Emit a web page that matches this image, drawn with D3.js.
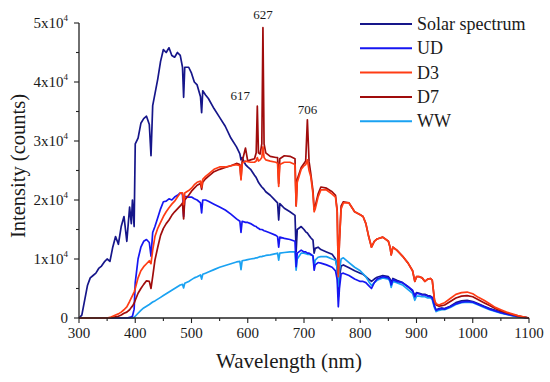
<!DOCTYPE html>
<html>
<head>
<meta charset="utf-8">
<script src="https://cdnjs.cloudflare.com/ajax/libs/d3/7.8.5/d3.min.js"></script>
<style>
  body { margin: 0; background: #fff; }
</style>
</head>
<body>
<div id="chart"></div>
<script>

// wavelength grid (nm), shared by all series
var wavelength = [
  300,305,310,315,320,325,330,335,340,345,
  350,355,360,365,370,375,380,385,390,393,
  395,398,400,405,410,415,420,425,428,431,
  435,440,445,450,455,460,465,470,475,480,
  484,486,488,495,500,505,510,516,518,520,
  525,530,540,550,560,570,580,586,588,590,
  596,600,605,612,615,617,619,622,625,627,
  629,632,640,650,653,655,657,665,675,684,
  686,688,695,700,703,706,709,712,716,718,
  720,725,730,740,750,756,759,761,763,766,
  770,780,790,800,805,810,815,820,825,830,
  840,850,853,855,858,865,875,885,893,897,
  900,905,910,915,920,925,928,932,935,940,
  945,950,960,970,980,990,1000,1010,1020,1030,
  1040,1050,1060,1070,1080,1090,1100
];

// intensities, in units of 1x10^4 counts
var solar = [
  0.0,0.05,0.3,0.55,0.68,0.72,0.76,0.84,0.88,0.95,
  1.0,0.96,1.2,1.38,1.25,1.55,1.72,1.3,1.88,1.6,
  2.0,1.55,2.95,3.05,3.3,3.38,3.42,3.28,2.75,3.6,
  3.8,4.05,4.35,4.55,4.5,4.58,4.45,4.42,4.5,4.45,
  4.25,3.74,4.25,4.25,4.15,4.0,3.95,3.75,3.48,3.85,
  3.78,3.72,3.55,3.4,3.25,3.05,2.9,2.78,2.68,2.72,
  2.6,2.56,2.52,2.42,2.38,2.34,2.3,2.26,2.22,2.2,
  2.18,2.14,2.08,1.98,1.95,1.66,1.94,1.86,1.8,1.74,
  1.12,1.5,1.55,1.5,1.46,1.44,1.4,1.36,1.32,1.1,
  1.18,1.2,1.16,1.12,1.08,1.0,0.85,0.36,0.7,0.88,
  0.9,0.85,0.8,0.76,0.74,0.7,0.66,0.62,0.66,0.69,
  0.72,0.7,0.66,0.6,0.67,0.64,0.6,0.53,0.46,0.38,
  0.43,0.42,0.4,0.4,0.38,0.37,0.35,0.2,0.13,0.16,
  0.17,0.16,0.2,0.26,0.29,0.3,0.28,0.24,0.2,0.16,
  0.13,0.1,0.07,0.05,0.03,0.015,0.0
];

var ud = [
  0,0,0,0,0,0,0,0,0,0,
  0,0,0,0,0,0,0,0,0.01,0.02,
  0.03,0.15,0.6,1.0,1.2,1.3,1.33,1.28,1.05,1.45,
  1.55,1.7,1.85,1.97,1.98,2.02,2.0,2.05,2.08,2.12,
  2.1,1.72,2.06,2.05,2.05,2.02,2.0,1.95,1.78,2.0,
  2.0,1.98,1.93,1.88,1.83,1.76,1.68,1.64,1.45,1.64,
  1.62,1.62,1.6,1.56,1.55,1.53,1.52,1.5,1.5,1.49,
  1.48,1.47,1.44,1.4,1.38,1.2,1.37,1.35,1.33,1.3,
  0.87,1.1,1.15,1.12,1.12,1.1,1.1,1.08,1.05,0.81,
  0.9,0.94,0.93,0.9,0.86,0.8,0.65,0.19,0.5,0.75,
  0.76,0.72,0.66,0.62,0.62,0.6,0.55,0.5,0.6,0.66,
  0.7,0.68,0.64,0.56,0.65,0.62,0.6,0.53,0.47,0.36,
  0.42,0.41,0.39,0.39,0.37,0.36,0.34,0.2,0.13,0.15,
  0.16,0.15,0.19,0.24,0.27,0.28,0.27,0.23,0.19,0.15,
  0.12,0.09,0.065,0.045,0.025,0.01,0
];

var d3s = [
  0,0,0,0,0,0,0,0,0,0,
  0,0.01,0.03,0.05,0.07,0.1,0.14,0.19,0.28,0.34,
  0.38,0.44,0.5,0.68,0.8,0.87,0.92,0.97,0.92,1.15,
  1.38,1.52,1.62,1.72,1.8,1.87,1.93,1.98,2.05,2.12,
  2.12,1.92,2.12,2.16,2.2,2.26,2.3,2.32,2.22,2.35,
  2.4,2.44,2.52,2.56,2.56,2.58,2.6,2.58,2.34,2.62,
  2.66,2.65,2.64,2.64,2.66,2.72,2.66,2.68,2.72,2.9,
  2.72,2.68,2.66,2.64,2.62,2.23,2.6,2.64,2.64,2.6,
  1.9,2.3,2.52,2.58,2.6,2.68,2.5,2.4,2.1,1.8,
  1.85,2.05,2.17,2.17,2.1,2.05,1.8,0.7,1.3,1.85,
  1.95,1.95,1.8,1.75,1.72,1.6,1.38,1.2,1.3,1.34,
  1.37,1.3,1.2,1.07,1.2,1.15,1.05,0.93,0.8,0.62,
  0.7,0.7,0.68,0.62,0.66,0.67,0.64,0.3,0.24,0.22,
  0.24,0.26,0.33,0.4,0.43,0.44,0.41,0.35,0.3,0.24,
  0.18,0.14,0.1,0.07,0.04,0.02,0
];

var d7 = [
  0,0,0,0,0,0,0,0,0,0,
  0,0,0.01,0.02,0.03,0.05,0.08,0.1,0.14,0.18,
  0.2,0.25,0.3,0.42,0.5,0.57,0.63,0.62,0.5,0.7,
  0.98,1.2,1.4,1.52,1.6,1.66,1.74,1.8,1.85,1.9,
  1.95,1.68,2.0,2.08,2.15,2.2,2.25,2.28,2.18,2.3,
  2.36,2.4,2.48,2.52,2.55,2.58,2.62,2.6,2.36,2.65,
  2.88,2.66,2.68,2.7,2.8,3.59,2.8,2.78,2.95,4.92,
  2.95,2.8,2.74,2.72,2.72,2.28,2.7,2.75,2.74,2.7,
  1.9,2.35,2.55,2.62,2.66,3.36,2.65,2.45,2.15,1.84,
  1.9,2.1,2.22,2.2,2.14,2.08,1.82,0.75,1.3,1.9,
  1.97,1.95,1.8,1.75,1.72,1.6,1.38,1.2,1.3,1.34,
  1.37,1.3,1.2,1.07,1.2,1.15,1.05,0.93,0.8,0.62,
  0.7,0.7,0.68,0.62,0.66,0.67,0.64,0.3,0.22,0.2,
  0.21,0.22,0.28,0.34,0.37,0.38,0.36,0.31,0.26,0.21,
  0.16,0.12,0.09,0.06,0.035,0.015,0
];

var ww = [
  0,0,0,0,0,0,0,0,0,0,
  0,0,0,0,0,0,0,0,0,0,
  0,0.01,0.03,0.08,0.13,0.17,0.2,0.23,0.25,0.27,
  0.29,0.32,0.35,0.38,0.41,0.44,0.47,0.5,0.53,0.56,
  0.57,0.51,0.59,0.62,0.65,0.68,0.7,0.73,0.66,0.74,
  0.76,0.78,0.82,0.86,0.89,0.92,0.95,0.96,0.82,0.97,
  0.98,0.99,1.0,1.01,1.02,1.02,1.03,1.04,1.04,1.05,
  1.05,1.06,1.07,1.09,1.1,0.98,1.1,1.11,1.12,1.12,
  0.81,1.0,1.1,1.1,1.09,1.08,1.08,1.07,1.06,0.87,
  0.98,1.03,1.04,1.04,1.0,0.98,0.85,0.53,0.8,1.0,
  1.02,0.94,0.86,0.8,0.75,0.7,0.62,0.55,0.6,0.64,
  0.68,0.66,0.62,0.52,0.62,0.6,0.56,0.48,0.42,0.3,
  0.37,0.37,0.36,0.36,0.34,0.34,0.31,0.17,0.11,0.13,
  0.14,0.14,0.18,0.23,0.26,0.27,0.26,0.22,0.18,0.14,
  0.11,0.08,0.06,0.04,0.02,0.01,0
];

var seriesNames = ["Solar spectrum", "UD", "D3", "D7", "WW"];
var seriesColors = ["#16168a", "#1616f2", "#ff3c14", "#a00c0c", "#1aa2f2"];
var seriesValues = [solar, ud, d3s, d7, ww];
var drawOrder = [0, 4, 1, 3, 2];

var xTicks = [300, 400, 500, 600, 700, 800, 900, 1000, 1100];
var yTicks = [0, 1, 2, 3, 4, 5];

// peak labels on D7
var peakLabels = ["617", "627", "706"];
var peakNm = [617, 627, 706];
var peakValue = [3.59, 4.92, 3.36];

var width = 550, height = 382;
var serif = "'Liberation Serif', 'Times New Roman', serif";

// label nudges so the numbers sit beside their peaks
var peakDx = [-17, 0, 0], peakDy = [-6, -9, -6];

var svg = d3.select("#chart").append("svg")
    .attr("width", width)
    .attr("height", height)
    .attr("font-family", serif)
    .style("font-family", serif);

var x = d3.scaleLinear().domain([300, 1100]).range([79, 529]);
var y = d3.scaleLinear().domain([0, 5]).range([318, 23]);

var line = d3.line()
    .x(function(d) { return x(d[0]); })
    .y(function(d) { return y(d[1]); });

drawOrder.forEach(function(k) {
  var pts = wavelength.map(function(w, i) { return [w, seriesValues[k][i]]; });
  svg.append("path")
      .datum(pts)
      .attr("fill", "none")
      .attr("stroke", seriesColors[k])
      .attr("stroke-width", 1.7)
      .attr("stroke-linejoin", "round")
      .attr("d", line);
});

// x axis
var xAxis = svg.append("g")
    .attr("transform", "translate(0," + y(0) + ")");
xAxis.append("line")
    .attr("x1", x(300)).attr("x2", x(1100))
    .attr("stroke", "#222").attr("stroke-width", 1.3);
xAxis.selectAll(".xminor")
    .data(d3.range(350, 1100, 100))
  .enter().append("line")
    .attr("x1", function(d) { return x(d); })
    .attr("x2", function(d) { return x(d); })
    .attr("y2", 3)
    .attr("stroke", "#222").attr("stroke-width", 1.1);
xAxis.selectAll(".xmajor")
    .data(xTicks)
  .enter().append("line")
    .attr("x1", function(d) { return x(d); })
    .attr("x2", function(d) { return x(d); })
    .attr("y2", 5)
    .attr("stroke", "#222").attr("stroke-width", 1.1);
xAxis.selectAll(".xlabel")
    .data(xTicks)
  .enter().append("text")
    .attr("x", function(d) { return x(d); })
    .attr("y", 20)
    .attr("text-anchor", "middle")
    .attr("fill", "#1a1a1a")
    .style("font-size", "15px")
    .text(function(d) { return d; });

// y axis
var yAxis = svg.append("g")
    .attr("transform", "translate(" + x(300) + ",0)");
yAxis.append("line")
    .attr("y1", y(0)).attr("y2", y(5))
    .attr("stroke", "#222").attr("stroke-width", 1.3);
yAxis.selectAll(".yminor")
    .data(d3.range(0.5, 5, 1))
  .enter().append("line")
    .attr("y1", function(d) { return y(d); })
    .attr("y2", function(d) { return y(d); })
    .attr("x2", -3)
    .attr("stroke", "#222").attr("stroke-width", 1.1);
yAxis.selectAll(".ymajor")
    .data(yTicks)
  .enter().append("line")
    .attr("y1", function(d) { return y(d); })
    .attr("y2", function(d) { return y(d); })
    .attr("x2", -5)
    .attr("stroke", "#222").attr("stroke-width", 1.1);
var ylab = yAxis.selectAll(".ylabel")
    .data(yTicks)
  .enter().append("text")
    .attr("x", -11)
    .attr("y", function(d) { return y(d) + 5; })
    .attr("text-anchor", "end")
    .attr("fill", "#1a1a1a")
    .style("font-size", "15px");
ylab.each(function(d) {
  var t = d3.select(this);
  if (d == 0) {
    t.text("0");
  } else {
    t.append("tspan").text(d + "x10");
    t.append("tspan").attr("dy", -7).style("font-size", "9px").text("4");
  }
});

// axis titles
svg.append("text")
    .attr("x", 289)
    .attr("y", 368)
    .attr("text-anchor", "middle")
    .attr("fill", "#1a1a1a")
    .style("font-size", "21px")
    .text("Wavelength (nm)");
svg.append("text")
    .attr("transform", "translate(25," + 166 + ") rotate(-90)")
    .attr("text-anchor", "middle")
    .attr("fill", "#1a1a1a")
    .style("font-size", "20.5px")
    .text("Intensity (counts)");

// peak annotations
svg.selectAll(".peak")
    .data(peakLabels)
  .enter().append("text")
    .attr("x", function(d, i) { return x(peakNm[i]) + peakDx[i]; })
    .attr("y", function(d, i) { return y(peakValue[i]) + peakDy[i]; })
    .attr("text-anchor", "middle")
    .attr("fill", "#1a1a1a")
    .style("font-size", "13px")
    .text(function(d) { return d; });

// legend
var legend = svg.append("g");
seriesNames.forEach(function(name, i) {
  var ly = 24 + i * 24.3;
  legend.append("line")
      .attr("x1", 360).attr("x2", 412)
      .attr("y1", ly).attr("y2", ly)
      .attr("stroke", seriesColors[i])
      .attr("stroke-width", 2);
  legend.append("text")
      .attr("x", 417)
      .attr("y", ly + 6)
      .attr("fill", "#1a1a1a")
      .style("font-size", "18px")
      .text(name);
});

</script>
</body>
</html>
